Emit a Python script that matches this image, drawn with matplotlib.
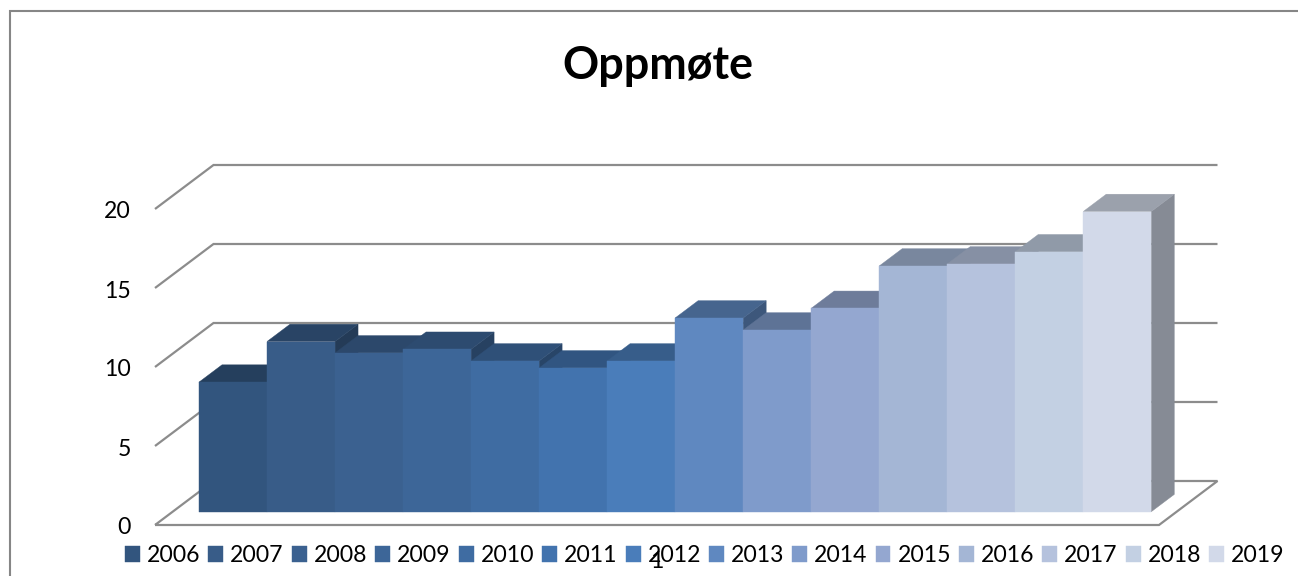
import matplotlib
matplotlib.use("Agg")
import matplotlib.pyplot as plt
from matplotlib.patches import Polygon
from matplotlib.lines import Line2D

plt.rcParams['font.family'] = ['Lato', 'DejaVu Sans']

years = ['2006', '2007', '2008', '2009', '2010', '2011', '2012', '2013', '2014', '2015', '2016', '2017', '2018', '2019']
values = [8.2, 10.77, 10.05, 10.28, 9.54, 9.1, 9.54, 12.26, 11.5, 12.87, 15.55, 15.68, 16.45, 19.0]
y_ticks = [0, 5, 10, 15, 20]
colors = ['#32557E', '#385C88', '#3B6190', '#3D6698', '#3F6CA2', '#4273AE', '#4A7DBA', '#5F88C0',
          '#7F9BCB', '#94A7D0', '#A4B6D5', '#B5C2DD', '#C3D0E3', '#D2D9E9']
title = 'Oppmøte'
category_label = '1'

W, H = 1298, 576
PX_PER_CAT = 68.02
PX_PER_UNIT = 15.8
X0_PX, Y0_PX = 199.0, 511.7
FS = 16.6


def shade(c, f):
    r, g, b = matplotlib.colors.to_rgb(c)
    return (r * f, g * f, b * f)


fig = plt.figure(figsize=(W / 100, H / 100), dpi=100, facecolor='white')
ax = fig.add_axes([0, 0, 1, 1])
ax.set_xlim(-X0_PX / PX_PER_CAT, (W - X0_PX) / PX_PER_CAT)
ax.set_ylim(-(H - Y0_PX) / PX_PER_UNIT, Y0_PX / PX_PER_UNIT)
ax.axis('off')

# 3-D projection offsets in data units
DX = 23.0 / PX_PER_CAT
DY = 17.3 / PX_PER_UNIT
FRONT_X = (155.0 - X0_PX) / PX_PER_CAT
FRONT_Y = -(525.0 - Y0_PX) / PX_PER_UNIT
RIGHT_FRONT_X = (1159.0 - X0_PX) / PX_PER_CAT
WALL_DX = 58.5 / PX_PER_CAT
WALL_DY = 44.0 / PX_PER_UNIT
LABEL_DROP = 3.0 / PX_PER_UNIT

GRID = '#8C8C8C'
grid_kw = dict(color=GRID, lw=1.6, zorder=1, solid_capstyle='butt', solid_joinstyle='miter')
for t in y_ticks:
    y = FRONT_Y + t
    if t == 0:
        ax.plot([FRONT_X, RIGHT_FRONT_X, RIGHT_FRONT_X + WALL_DX, FRONT_X + WALL_DX, FRONT_X],
                [y, y, y + WALL_DY, y + WALL_DY, y], **grid_kw)
    else:
        ax.plot([FRONT_X, FRONT_X + WALL_DX, RIGHT_FRONT_X + WALL_DX],
                [y, y + WALL_DY, y + WALL_DY], **grid_kw)
    ax.text(FRONT_X - 24.0 / PX_PER_CAT, y - LABEL_DROP, str(t), ha='right', va='center', fontsize=FS, color='black')

# Bars painted left to right so each front covers its neighbour's side
handles = []
for i, (yr, v, c) in enumerate(zip(years, values, colors)):
    z = 2 + i
    left, right = i, i + 1
    ax.add_patch(Polygon([(right, 0), (right + DX, DY), (right + DX, v + DY), (right, v)],
                         closed=True, fc=shade(c, 0.64), ec=shade(c, 0.64), lw=0.3, zorder=z))
    ax.add_patch(Polygon([(left, v), (left + DX, v + DY), (right + DX, v + DY), (right, v)],
                         closed=True, fc=shade(c, 0.74), ec=shade(c, 0.74), lw=0.3, zorder=z))
    b = ax.bar(left, v, width=1.0, align='edge', color=c, edgecolor=c, lw=0.3, zorder=z + 0.5, label=yr)
    handles.append(b)

leg = ax.legend(handles=handles, labels=years, ncol=14, frameon=False, fontsize=FS,
                loc='lower left', bbox_to_anchor=(125 / W, 1 - 566 / H), bbox_transform=fig.transFigure,
                borderpad=0, borderaxespad=0, handlelength=0.65, handleheight=0.65,
                handletextpad=0.30, columnspacing=0.347, labelcolor='black')

fig.text(657 / W, 1 - 561 / H, category_label, ha='center', va='center', fontsize=FS, color='black', zorder=20)
fig.text(657.5 / W, 1 - 66 / H, title, ha='center', va='center', fontsize=32.3, fontweight='bold', color='black')

# Outer chart frame: left and top edges only
frame_kw = dict(color='#868686', lw=1.5, transform=fig.transFigure, solid_capstyle='butt', solid_joinstyle='miter')
fig.add_artist(Line2D([9.5 / W, 9.5 / W, 1], [0, 1 - 11 / H, 1 - 11 / H], **frame_kw))

fig.savefig('out.png', dpi=100)
